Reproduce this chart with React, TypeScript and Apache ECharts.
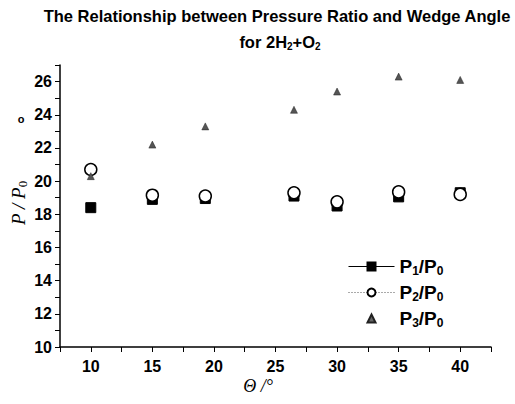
import React, { useEffect, useRef } from "react";
import * as echarts from "echarts";

const angles = [10, 15, 19.3, 26.5, 30, 35, 40];
const p1 = [18.4, 18.9, 18.95, 19.1, 18.5, 19.05, 19.3];
const p2 = [20.7, 19.15, 19.1, 19.3, 18.75, 19.35, 19.2];
const p3 = [20.3, 22.2, 23.3, 24.3, 25.4, 26.3, 26.1];
const seriesNames = ["P1/P0", "P2/P0", "P3/P0"];

const pairs = (ys: number[]) => angles.map((x, i) => [x, ys[i]]);

export default function App() {
  const ref = useRef<HTMLDivElement>(null);
  useEffect(() => {
    if (!ref.current) return;
    const chart = echarts.init(ref.current, null, { renderer: "svg" });
    const sans = "Liberation Sans";
    const serif = "Liberation Serif";
    const subRich = {
      sub: { fontSize: 12, fontWeight: "bold", fontFamily: sans, color: "#000", padding: [9, 0, 0, 0] },
    };
    chart.setOption({
      animation: false,
      backgroundColor: "#fff",
      grid: { left: 60, right: 24, top: 65, bottom: 57, containLabel: false, outerBoundsMode: "none" },
      xAxis: {
        type: "value",
        min: 7.5,
        max: 42.5,
        interval: 2.5,
        axisLine: { lineStyle: { color: "#000", width: 1.5 } },
        axisTick: { show: true, length: 5, lineStyle: { color: "#000" } },
        axisLabel: {
          fontFamily: sans,
          fontWeight: "bold",
          fontSize: 16,
          color: "#000",
          margin: 11,
          formatter: (v: number) => (v % 5 === 0 ? String(v) : ""),
        },
        splitLine: { show: false },
      },
      yAxis: {
        type: "value",
        min: 10,
        max: 27,
        interval: 1,
        axisLine: { show: true, lineStyle: { color: "#000", width: 1.5 } },
        axisTick: { show: true, length: 5, lineStyle: { color: "#000" } },
        axisLabel: {
          fontFamily: sans,
          fontWeight: "bold",
          fontSize: 16,
          color: "#000",
          margin: 8,
          formatter: (v: number) => (v % 2 === 0 ? String(v) : ""),
        },
        splitLine: { show: false },
      },
      legend: {
        orient: "vertical",
        left: 343,
        top: 252,
        itemWidth: 46,
        itemHeight: 10,
        itemGap: 6,
        data: [
          { name: seriesNames[0], lineStyle: { width: 1, color: "#000", type: "solid", opacity: 1 } },
          { name: seriesNames[1], lineStyle: { width: 1, color: "#555", type: [1, 2], opacity: 1 } },
          { name: seriesNames[2], itemStyle: { color: "#666" } },
        ],
        formatter: (n: string) => `P{sub|${n[1]}}/P{sub|0}`,
        textStyle: {
          fontFamily: sans,
          fontWeight: "bold",
          fontSize: 19,
          color: "#000",
          rich: subRich,
        },
      },
      graphic: [
        {
          type: "text",
          x: 277,
          y: 16,
          style: {
            text: "The Relationship between Pressure Ratio and Wedge Angle",
            fontFamily: sans,
            fontWeight: "bold",
            fontSize: 16.5,
            fill: "#000",
            align: "center",
            verticalAlign: "middle",
          },
        },
        {
          type: "text",
          x: 280,
          y: 42,
          style: {
            text: "for 2H{s|2}+O{s|2}",
            fontFamily: sans,
            fontWeight: "bold",
            fontSize: 16.5,
            fill: "#000",
            align: "center",
            verticalAlign: "middle",
            rich: { s: { fontSize: 10, fontWeight: "bold", fontFamily: sans, padding: [9, 0, 0, 0] } },
          },
        },
        {
          type: "text",
          x: 18,
          y: 203,
          rotation: Math.PI / 2,
          style: {
            text: "P / P{s|0}",
            fontFamily: serif,
            fontStyle: "italic",
            fontSize: 19,
            fill: "#000",
            align: "center",
            verticalAlign: "middle",
            rich: { s: { fontFamily: serif, fontSize: 13, fill: "#000", padding: [8, 0, 0, 0] } },
          },
        },
        {
          type: "text",
          x: 258,
          y: 386,
          style: {
            text: "Θ /°",
            fontFamily: serif,
            fontStyle: "italic",
            fontSize: 18,
            fill: "#000",
            align: "center",
            verticalAlign: "middle",
          },
        },
        {
          type: "text",
          x: 21,
          y: 119,
          style: {
            text: "o",
            fontFamily: sans,
            fontWeight: "bold",
            fontSize: 11,
            fill: "#000",
            align: "center",
            verticalAlign: "middle",
          },
        },
      ],
      series: [
        {
          name: seriesNames[0],
          type: "line",
          data: pairs(p1),
          symbol: "rect",
          symbolSize: 10,
          showSymbol: true,
          lineStyle: { width: 0, opacity: 0 },
          itemStyle: { color: "#000", borderColor: "#000", borderWidth: 1 },
        },
        {
          name: seriesNames[1],
          type: "line",
          data: pairs(p2),
          symbol: "circle",
          symbolSize: 12,
          showSymbol: true,
          lineStyle: { width: 0, opacity: 0 },
          itemStyle: { color: "#fff", borderColor: "#000", borderWidth: 1.5 },
        },
        {
          name: seriesNames[2],
          type: "line",
          data: pairs(p3),
          symbol: "triangle",
          symbolSize: 7,
          showSymbol: true,
          lineStyle: { width: 0, opacity: 0 },
          itemStyle: { color: "#555", borderColor: "#222", borderWidth: 0.5 },
        },
      ],
    });
    return () => chart.dispose();
  }, []);
  return (
    <div
      ref={ref}
      style={{ position: "absolute", left: 0, top: 0, width: 515, height: 404 }}
    />
  );
}
